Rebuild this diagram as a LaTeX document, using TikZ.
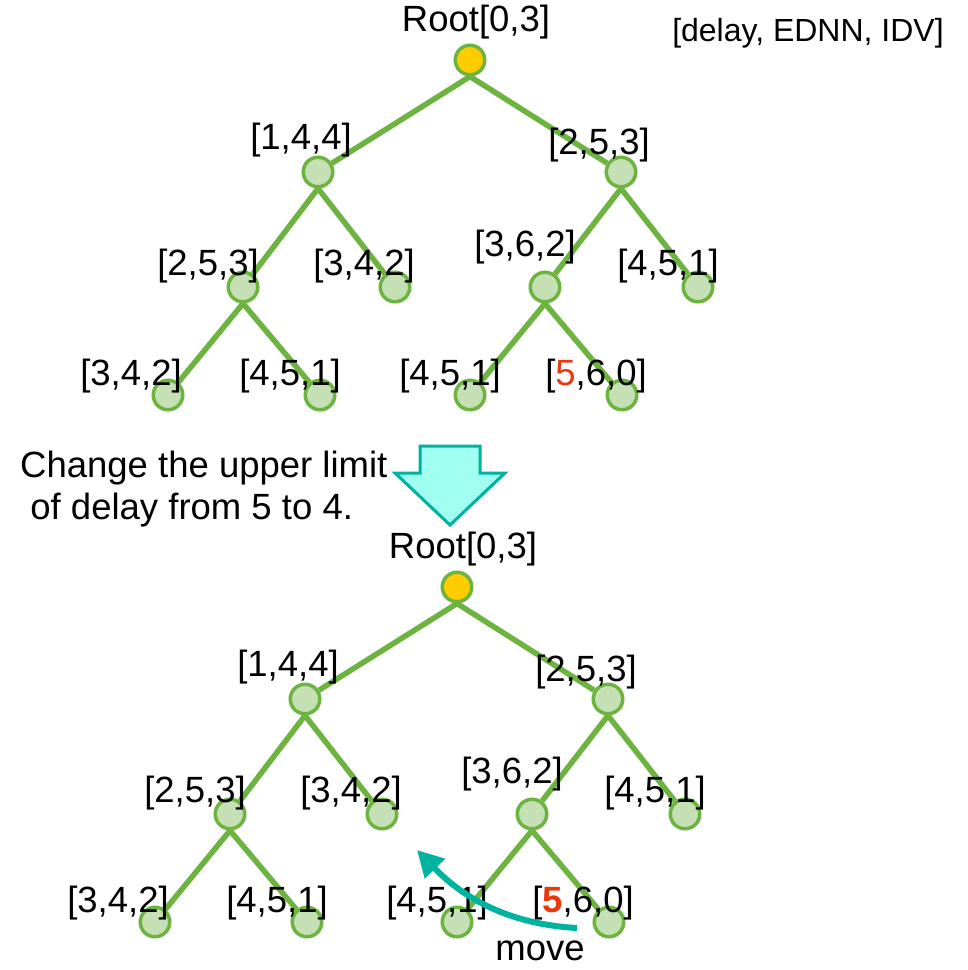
\documentclass[tikz,border=0pt]{standalone}
\usepackage{fontspec}
\setmainfont{Liberation Sans}
\usetikzlibrary{arrows.meta,backgrounds}

\definecolor{treegreen}{HTML}{6CB43F}
\definecolor{leafgreen}{HTML}{C5E0B4}
\definecolor{rootyellow}{HTML}{FFCC00}
\definecolor{delayred}{HTML}{E8380D}
\definecolor{arrowfill}{HTML}{A0FFF0}
\definecolor{teal}{HTML}{00B39E}

\tikzset{
  leaf/.style={circle,draw=treegreen,fill=leafgreen,line width=3.5pt,minimum size=29.5pt,inner sep=0pt},
  rootnode/.style={leaf,fill=rootyellow},
  lbl/.style={font=\fontsize{36.5}{40}\selectfont,inner sep=0pt},
  edge/.style={draw=treegreen,line width=5.5pt}
}

% one delay tree, #1 = name prefix, #2 = text of the last leaf
\newcommand\delaytree[2]{
  \node[rootnode] (#1r) at (470,60) {};
  \node[leaf] (#1a) at (318,172) {};
  \node[leaf] (#1b) at (621,172) {};
  \node[leaf] (#1aa) at (243,287) {};
  \node[leaf] (#1ab) at (395,287) {};
  \node[leaf] (#1ba) at (545,287) {};
  \node[leaf] (#1bb) at (698,287) {};
  \node[leaf] (#1aaa) at (168,395) {};
  \node[leaf] (#1aab) at (320,395) {};
  \node[leaf] (#1baa) at (470,395) {};
  \node[leaf] (#1bab) at (622,395) {};
  \begin{scope}[on background layer]
    \draw[edge] (#1r.south)--(#1a) (#1r.south)--(#1b);
    \draw[edge] (#1a.south)--(#1aa) (#1a.south)--(#1ab);
    \draw[edge] (#1b.south)--(#1ba) (#1b.south)--(#1bb);
    \draw[edge] (#1aa.south)--(#1aaa) (#1aa.south)--(#1aab);
    \draw[edge] (#1ba.south)--(#1baa) (#1ba.south)--(#1bab);
  \end{scope}
  \node[lbl] (#1rl) at (476,22) {Root[0,3]};
  \node[lbl] (#1al) at (301,140) {[1,4,4]};
  \node[lbl] (#1bl) at (599,145) {[2,5,3]};
  \node[lbl] (#1aal) at (208,266) {[2,5,3]};
  \node[lbl] (#1abl) at (364,266) {[3,4,2]};
  \node[lbl] (#1bal) at (525,247) {[3,6,2]};
  \node[lbl] (#1bbl) at (668,266) {[4,5,1]};
  \node[lbl] (#1aaal) at (131,376) {[3,4,2]};
  \node[lbl] (#1aabl) at (290,376) {[4,5,1]};
  \node[lbl] (#1baal) at (450,376) {[4,5,1]};
  \node[lbl] (#1babl) at (596,376) {#2};
}

\begin{document}
\begin{tikzpicture}[x=1pt,y=-1pt]
  \useasboundingbox (0,0) rectangle (968,970);

  % before
  \delaytree{t}{[{\color{delayred}5},6,0]}
  \node[font=\fontsize{32}{36}\selectfont,inner sep=0pt] (legend) at (808,33) {[delay, EDNN, IDV]};

  % change of the limit
  \node[lbl,align=left,anchor=west,font=\fontsize{36.5}{42}\selectfont] (change) at (20,489)
    {Change the upper limit\\\hspace*{0.28em}of delay from 5 to 4.};
  \draw[draw=teal,fill=arrowfill,line width=3pt,line join=miter]
    (420,446)--(480,446)--(480,473)--(505,473)--(450,525)--(395,473)--(420,473)--cycle;

  % after
  \begin{scope}[shift={(-13,527)}]
    \delaytree{u}{[{\color{delayred}\bfseries 5},6,0]}
    \coordinate (mvstart) at (590,401);
    \coordinate (mvend) at (430,323);
    \draw[draw=teal,line width=6pt,-{Triangle[length=26pt,width=27pt]}]
      (mvstart) .. controls (533,398) and (483,378) .. (mvend);
    \node[lbl] (move) at (553,424) {move};
  \end{scope}
\end{tikzpicture}
\end{document}
